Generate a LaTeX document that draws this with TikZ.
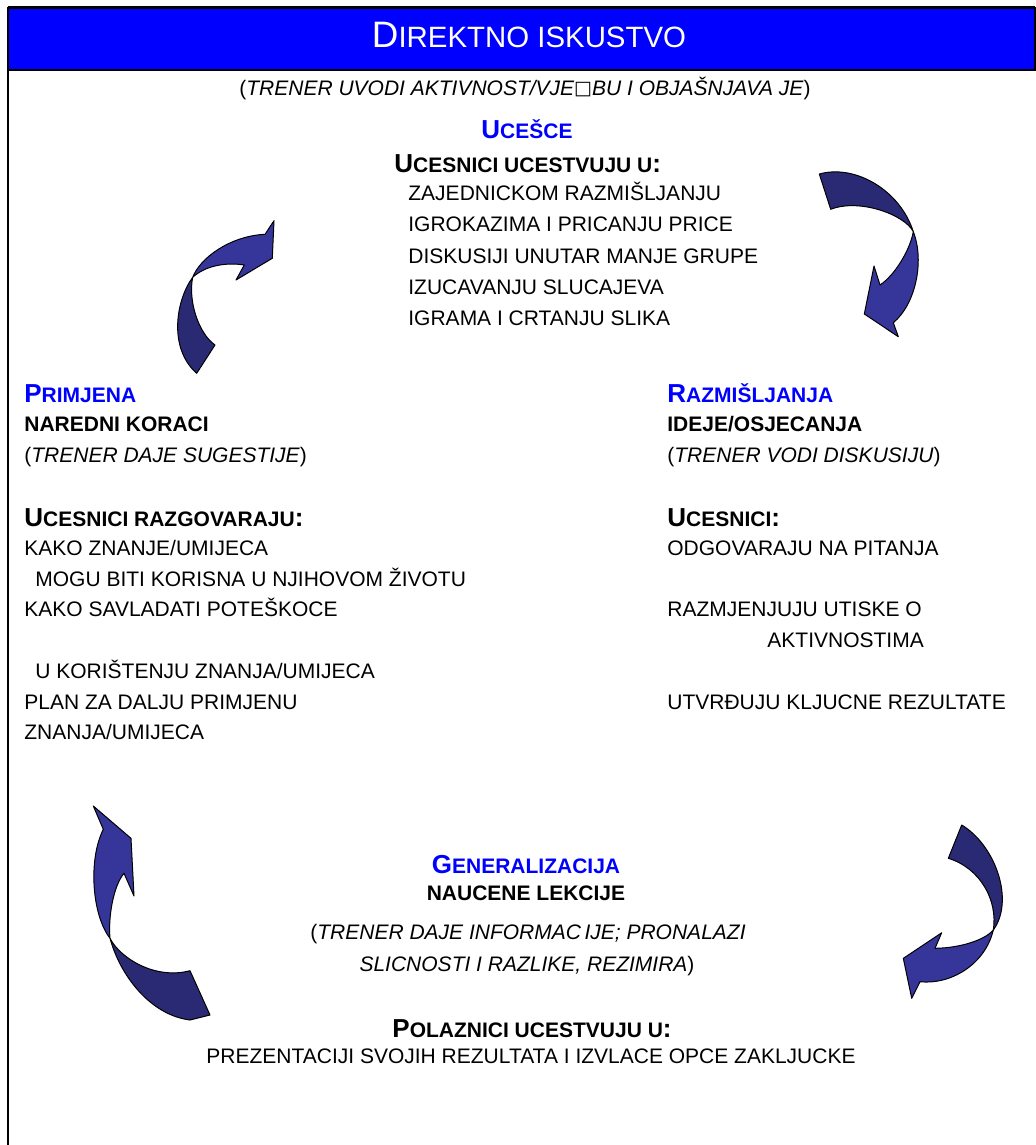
\documentclass[tikz,border=0pt]{standalone}
\usepackage{fontspec}
\setmainfont{Liberation Sans}
\newfontfamily\symfont{DejaVu Sans}
\usetikzlibrary{positioning}
\definecolor{headblue}{RGB}{0,0,255}
\definecolor{arrowlight}{RGB}{54,54,154}
\definecolor{arrowdark}{RGB}{42,42,116}
\newcommand{\capsc}[2]{{\fontsize{13}{15}\selectfont #1}#2}
\newcommand{\parnote}[1]{{\upshape(}\textit{#1}{\upshape)}}

\begin{document}
\begin{tikzpicture}[x=0.5pt,y=-0.5pt,
    body/.style={anchor=base west,inner sep=0pt,font=\fontsize{10.5}{15}\selectfont},
    bodyc/.style={body,anchor=base},
    label/.style={body,font=\fontsize{10.5}{15}\selectfont\bfseries},
    labelc/.style={label,anchor=base},
    heading/.style={label,text=headblue},
    headingc/.style={heading,anchor=base},
    headpart/.style={fill=arrowlight,draw=black,line width=0.5pt,line join=round},
    tailpart/.style={headpart,fill=arrowdark}]
    \useasboundingbox (0,0) rectangle (1035,1145);
    % frame and title bar
    \draw[line width=1pt] (8,7) -- (1035,7);
    \draw[line width=1pt] (8,7) -- (8,1145);
    \filldraw[fill=headblue,draw=black,line width=0.8pt] (8,8) rectangle (1035,70);
    \node[bodyc,text=white,font=\fontsize{14.7}{17}\selectfont] (title) at (529,48)
        {{\fontsize{18.4}{20}\selectfont D}IREKTNO ISKUSTVO};
    \node[bodyc] (intro) at (525,95.5)
        {\parnote{TRENER UVODI AKTIVNOST/VJE\raisebox{0.6pt}{\symfont\fontsize{9.5}{10}\selectfont □}BU I OBJAŠNJAVA JE}};

    % participation
    \node[headingc] (ucesce) at (527,139) {\capsc{U}{CEŠCE}};
    \node[label] (ucTitle) at (394,172) {\capsc{U}{CESNICI UCESTVUJU U}\capsc{:}{}};
    \foreach \txt [count=\k from 0] in {ZAJEDNICKOM RAZMIŠLJANJU,IGROKAZIMA I PRICANJU PRICE,
        DISKUSIJI UNUTAR MANJE GRUPE,IZUCAVANJU SLUCAJEVA,IGRAMA I CRTANJU SLIKA}
        \node[body] (item\k) at (408,200.5+31.25*\k) {\txt};

    % application (left)
    \node[heading] (primjena) at (24,402) {\capsc{P}{RIMJENA}};
    \node[label] (koraci) at (24,431.5) {NAREDNI KORACI};
    \node[body] (sugest) at (24,462.5) {\parnote{TRENER DAJE SUGESTIJE}};
    \node[label] (razgTitle) at (24,526) {\capsc{U}{CESNICI RAZGOVARAJU}\capsc{:}{}};
    \node[body] (l1) at (24,555.5) {KAKO ZNANJE/UMIJECA};
    \node[body] (l2) at (35,586.5) {MOGU BITI KORISNA U NJIHOVOM ŽIVOTU};
    \node[body] (l3) at (24,616.5) {KAKO SAVLADATI POTEŠKOCE};
    \node[body] (l4) at (35,678.5) {U KORIŠTENJU ZNANJA/UMIJECA};
    \node[body] (l5) at (24,709.5) {PLAN ZA DALJU PRIMJENU};
    \node[body] (l6) at (24,739.5) {ZNANJA/UMIJECA};

    % reflection (right)
    \node[heading] (razm) at (667,402) {\capsc{R}{AZMIŠLJANJA}};
    \node[label] (ideje) at (667,431.5) {IDEJE/OSJECANJA};
    \node[body] (vodi) at (667,462.5) {\parnote{TRENER VODI DISKUSIJU}};
    \node[label] (ucTitleR) at (667,526) {\capsc{U}{CESNICI}\capsc{:}{}};
    \node[body] (r1) at (667,555.5) {ODGOVARAJU NA PITANJA};
    \node[body] (r2) at (667,616.5) {RAZMJENJUJU UTISKE O};
    \node[body] (r3) at (767,647.5) {AKTIVNOSTIMA};
    \node[body] (r4) at (667,709.5) {UTVRĐUJU KLJUCNE REZULTATE};

    % generalisation (bottom)
    \node[headingc] (gen) at (526,873) {\capsc{G}{ENERALIZACIJA}};
    \node[labelc] (lekcije) at (526,900.5) {NAUCENE LEKCIJE};
    \node[bodyc] (info1) at (528,939.5) {{\upshape(}\textit{TRENER DAJE INFORMAC\,IJE; PRONALAZI}};
    \node[bodyc] (info2) at (527,971.5) {\textit{SLICNOSTI I RAZLIKE, REZIMIRA}{\upshape)}};
    \node[labelc] (polTitle) at (532,1037) {\capsc{P}{OLAZNICI UCESTVUJU U}\capsc{:}{}};
    \node[bodyc] (prez) at (531,1063.5) {PREZENTACIJI SVOJIH REZULTATA I IZVLACE OPCE ZAKLJUCKE};

    % curved arrows, top left
    \draw[tailpart] (192.7,277.3) .. controls (176,300) and (168,348) .. (196.7,373.3)
        -- (215,345) .. controls (198,333) and (188,300) .. cycle;
    \draw[headpart] (192.7,277.3) .. controls (200,258) and (230,236) .. (265,234.3)
        -- (274,220.7) -- (272.3,258.3) -- (236,280) -- (244.3,265)
        .. controls (225,262) and (205,266) .. cycle;
    % top right
    \draw[tailpart] (819.3,174) .. controls (855,164) and (900,190) .. (913.3,231.7)
        .. controls (905,215) and (860,198) .. (830.7,209.3) -- cycle;
    \draw[headpart] (913.3,231.7) .. controls (925,262) and (915,305) .. (893.3,322.7)
        -- (898.3,336.7) -- (864.3,314) -- (874,266) -- (880,285)
        .. controls (895,275) and (910,250) .. cycle;
    % bottom left
    \draw[tailpart] (110,938.3) .. controls (120,975) and (150,1015) .. (190,1020)
        -- (210,1015) -- (190,970.7) .. controls (155,980) and (120,958) .. cycle;
    \draw[headpart] (93.3,806) -- (131,838.3) -- (134,896) -- (124,873.3)
        .. controls (114,885) and (108,915) .. (110,938.3)
        .. controls (92,915) and (88,860) .. (103.3,829.3) -- cycle;
    % bottom right
    \draw[tailpart] (961.7,825) .. controls (995,845) and (1015,900) .. (993.3,930)
        .. controls (998,900) and (980,868) .. (948.3,858.3) -- cycle;
    \draw[headpart] (993.3,930) .. controls (985,965) and (950,985) .. (920,981.7)
        -- (911.7,998.3) -- (903.3,958.3) -- (941.7,932.7) -- (935,948.3)
        .. controls (960,948) and (985,940) .. cycle;
\end{tikzpicture}
\end{document}
